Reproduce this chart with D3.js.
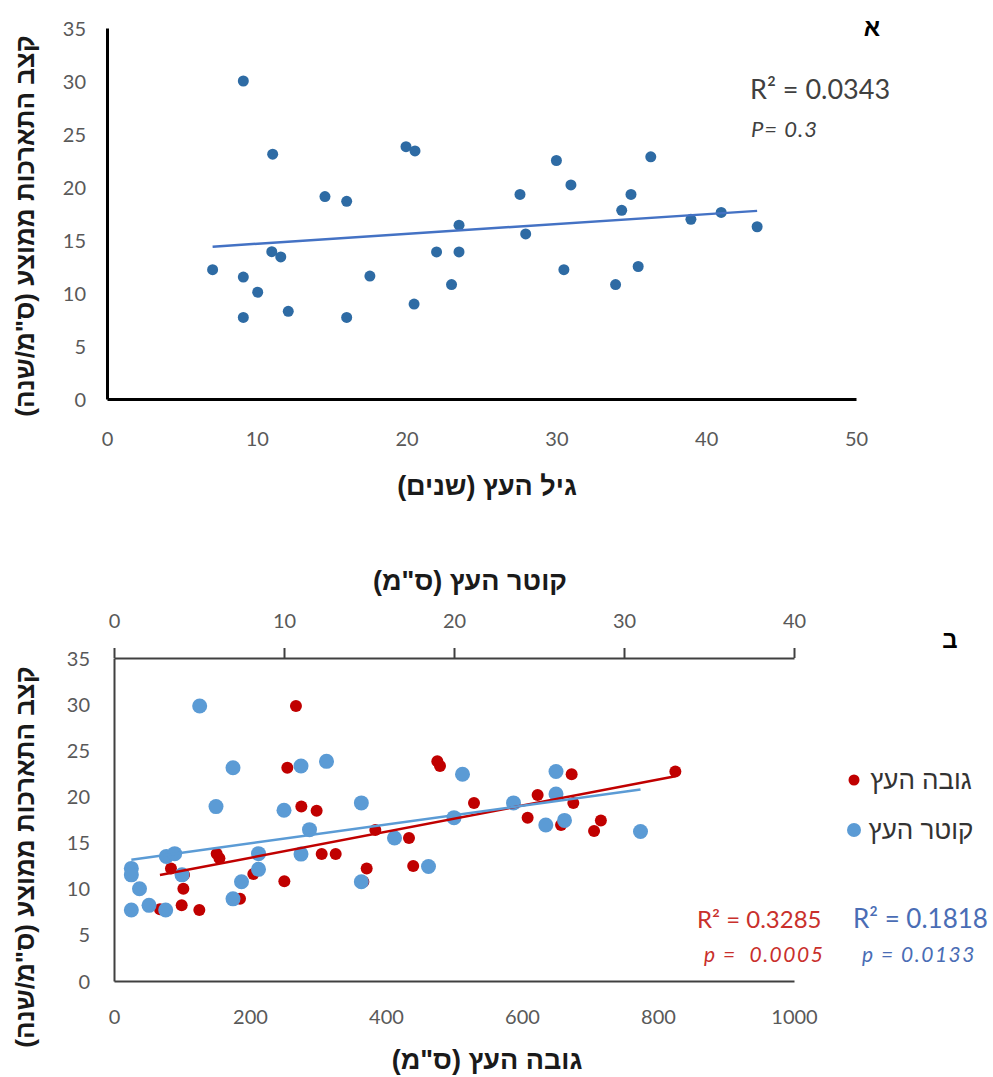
<!DOCTYPE html>
<html lang="he">
<head>
<meta charset="utf-8">
<script src="https://cdn.jsdelivr.net/npm/d3@7.9.0/dist/d3.min.js"></script>
<style>
  html, body { margin: 0; padding: 0; background: #fff; }
  svg { display: block; }
  .tick text { font-family: Lato, "Open Sans", sans-serif; font-size: 20px; fill: #595959; }
  .heb { font-family: "Liberation Sans", "DejaVu Sans", sans-serif; }
  .stat { font-family: Lato, "Open Sans", sans-serif; }
</style>
</head>
<body>
<svg id="chart" width="993" height="1077"></svg>
<script>
// ----- Panel א: growth vs. tree age -----
const ageYears = [9.1, 11.06, 14.55, 16.0, 19.96, 20.56, 27.57, 23.5, 27.95, 22.0, 23.5, 11.0, 11.6, 7.05, 9.1, 10.06, 17.55,
  23.0, 20.5, 12.1, 9.1, 16.0, 30.0, 30.97, 36.3, 34.98, 34.36, 38.98, 41.0, 43.4, 30.5, 35.46, 33.95];
const ageGrowth = [30.0, 23.1, 19.1, 18.65, 23.8, 23.4, 19.3, 16.4, 15.57, 13.87, 13.87, 13.9, 13.4, 12.2, 11.5, 10.07, 11.6,
  10.8, 8.96, 8.27, 7.7, 7.7, 22.5, 20.2, 22.85, 19.3, 17.8, 16.95, 17.6, 16.25, 12.2, 12.5, 10.8];
const ageTrend = { slope: 0.0928, intercept: 13.72 };

// ----- Panel ב: growth vs. height (red) and diameter (blue) -----
const heightCm = [267.6, 254.9, 475.5, 479.4, 275.5, 298, 529.4, 384.3, 433.8, 151, 155, 305.4, 326, 83.8, 371.6, 440, 204.9,
  102, 250.5, 185.3, 99.5, 67.6, 125.5, 366.7, 103, 825.5, 673, 623, 675.5, 608.3, 716, 657.4, 706];
const heightGrowth = [29.8, 23.1, 23.8, 23.3, 18.9, 18.45, 19.3, 16.36, 15.5, 13.8, 13.3, 13.76, 13.76, 12.2, 12.2, 12.46, 11.6,
  10.0, 10.8, 8.9, 8.2, 7.77, 7.7, 10.75, 11.5, 22.7, 22.4, 20.15, 19.3, 17.7, 17.4, 16.9, 16.25];
const diamCm = [5.04, 7.0, 11.0, 12.5, 20.5, 6.0, 10.0, 14.55, 11.5, 20.0, 16.5, 3.08, 3.57, 8.5, 11.0, 1.02, 1.02, 4.0, 8.5,
  18.5, 1.5, 7.5, 14.55, 7.0, 2.06, 1.02, 3.04, 26.0, 23.5, 26.0, 26.5, 25.4, 30.97];
const diamGrowth = [29.8, 23.1, 23.3, 23.8, 22.4, 18.9, 18.5, 19.3, 16.4, 17.7, 15.5, 13.5, 13.8, 13.8, 13.75, 12.2, 11.5, 11.5,
  12.1, 12.4, 10.0, 10.75, 10.75, 8.9, 8.2, 7.7, 7.7, 22.7, 19.3, 20.26, 17.4, 16.9, 16.2];
const heightTrend = { slope: 0.01414, intercept: 10.52 };
const diamTrend = { slope: 0.2538, intercept: 12.88 };

const yTicks = [0, 5, 10, 15, 20, 25, 30, 35];
const ageTicks = [0, 10, 20, 30, 40, 50];
const heightTicks = [0, 200, 400, 600, 800, 1000];
const diamTicks = [0, 10, 20, 30, 40];

const yTitle = 'קצב התארכות ממוצע (ס"מ/שנה)';
const fmt = d3.format("d");

const svg = d3.select("#chart");

function styleAxis(g, color, width) {
  g.select(".domain").attr("stroke", color).attr("stroke-width", width);
  g.selectAll(".tick line").attr("stroke", color).attr("stroke-width", width);
}

function trendLine(g, xs, trend, x, y, color) {
  const [lo, hi] = d3.extent(xs);
  const pts = [lo, hi].map(v => [v, trend.intercept + trend.slope * v]);
  g.append("path")
    .attr("d", d3.line().x(d => x(d[0])).y(d => y(d[1]))(pts))
    .attr("stroke", color).attr("stroke-width", 2.5).attr("fill", "none");
}

function hebTitle(g, text, size) {
  return g.append("text").attr("class", "heb").attr("direction", "rtl")
    .attr("text-anchor", "middle").attr("font-size", size)
    .attr("font-weight", "bold").attr("fill", "#1a1a1a").text(text);
}

// ===== Panel א =====
{
  const x = d3.scaleLinear([0, 50], [107, 856]);
  const y = d3.scaleLinear([0, 35], [399, 28]);
  const g = svg.append("g");

  g.append("g").attr("transform", "translate(0,399)")
    .call(d3.axisBottom(x).tickValues(ageTicks).tickFormat(fmt).tickSize(0).tickSizeOuter(0).tickPadding(33))
    .call(a => styleAxis(a, "#000", 3));
  g.append("g").attr("transform", "translate(107,0)")
    .call(d3.axisLeft(y).tickValues(yTicks).tickFormat(fmt).tickSize(0).tickSizeOuter(0).tickPadding(21))
    .call(a => styleAxis(a, "#000", 3))
    .call(a => a.selectAll(".tick text").attr("dy", "0.35em"));

  g.append("g").selectAll("circle")
    .data(d3.zip(ageYears, ageGrowth))
    .join("circle")
    .attr("cx", d => x(d[0])).attr("cy", d => y(d[1])).attr("r", 5.5)
    .attr("fill", "#2E6BA4");
  trendLine(g, ageYears, ageTrend, x, y, "#4472C4");

  g.append("text").attr("class", "stat").attr("x", 750).attr("y", 99)
    .attr("font-size", 27).attr("fill", "#404040")
    .text("R² = 0.0343");
  g.append("text").attr("class", "stat").attr("x", 751).attr("y", 137)
    .attr("font-size", 22).attr("font-style", "italic").attr("fill", "#404040")
    .attr("letter-spacing", 1)
    .text("P= 0.3");

  g.append("text").attr("class", "heb").attr("x", 872).attr("y", 36)
    .attr("text-anchor", "middle").attr("font-size", 24).attr("font-weight", "bold")
    .text("א");
  hebTitle(g, "גיל העץ (שנים)", 27).attr("x", 487).attr("y", 495);
  hebTitle(g, yTitle, 26).attr("transform", "translate(34,226) rotate(-90)");
}

// ===== Panel ב =====
{
  const xH = d3.scaleLinear([0, 1000], [114, 794]);
  const xD = d3.scaleLinear([0, 40], [114, 794]);
  const y = d3.scaleLinear([0, 35], [981, 658]);
  const g = svg.append("g");
  const red = "#C00000", blue = "#5B9BD5";

  g.append("g").attr("transform", "translate(0,981)")
    .call(d3.axisBottom(xH).tickValues(heightTicks).tickFormat(fmt).tickSize(0).tickSizeOuter(0).tickPadding(29))
    .call(a => styleAxis(a, "#404040", 2));
  g.append("g").attr("transform", "translate(0,658)")
    .call(d3.axisTop(xD).tickValues(diamTicks).tickFormat(fmt).tickSize(10).tickSizeOuter(0).tickPadding(20))
    .call(a => styleAxis(a, "#404040", 2));
  g.append("g").attr("transform", "translate(114,0)")
    .call(d3.axisLeft(y).tickValues(yTicks).tickFormat(fmt).tickSize(0).tickSizeOuter(0).tickPadding(24))
    .call(a => styleAxis(a, "#404040", 2))
    .call(a => a.selectAll(".tick text").attr("dy", "0.35em"));

  g.append("g").selectAll("circle")
    .data(d3.zip(heightCm, heightGrowth))
    .join("circle")
    .attr("cx", d => xH(d[0])).attr("cy", d => y(d[1])).attr("r", 6)
    .attr("fill", red);
  g.append("g").selectAll("circle")
    .data(d3.zip(diamCm, diamGrowth))
    .join("circle")
    .attr("cx", d => xD(d[0])).attr("cy", d => y(d[1])).attr("r", 7.5)
    .attr("fill", blue);
  trendLine(g, heightCm, heightTrend, xH, y, red);
  trendLine(g, diamCm, diamTrend, xD, y, blue);

  // legend
  const legend = [
    { label: "גובה העץ", color: red, r: 5.5, cy: 780 },
    { label: "קוטר העץ", color: blue, r: 7, cy: 830 }
  ];
  const li = g.append("g").selectAll("g").data(legend).join("g");
  li.append("circle").attr("cx", 854).attr("cy", d => d.cy).attr("r", d => d.r).attr("fill", d => d.color);
  li.append("text").attr("class", "heb").attr("direction", "rtl")
    .attr("x", 921).attr("y", d => d.cy + 9).attr("text-anchor", "middle")
    .attr("font-size", 26).attr("fill", "#333")
    .text(d => d.label);

  // stats
  g.append("text").attr("class", "stat").attr("x", 697).attr("y", 928)
    .attr("font-size", 24).attr("fill", "#C9302C").text("R² = 0.3285");
  g.append("text").attr("class", "stat").attr("x", 704).attr("y", 962)
    .attr("font-size", 21).attr("font-style", "italic").attr("fill", "#C9302C")
    .attr("letter-spacing", 1.5).attr("xml:space", "preserve")
    .text("p =  0.0005");
  g.append("text").attr("class", "stat").attr("x", 853).attr("y", 928)
    .attr("font-size", 26).attr("fill", "#4A6DB5").text("R² = 0.1818");
  g.append("text").attr("class", "stat").attr("x", 862).attr("y", 962)
    .attr("font-size", 21).attr("font-style", "italic").attr("fill", "#4A6DB5")
    .attr("letter-spacing", 1.5)
    .text("p = 0.0133");

  g.append("text").attr("class", "heb").attr("x", 950).attr("y", 648)
    .attr("text-anchor", "middle").attr("font-size", 24).attr("font-weight", "bold")
    .text("ב");
  hebTitle(g, 'קוטר העץ (ס"מ)', 27).attr("x", 470).attr("y", 590);
  hebTitle(g, 'גובה העץ (ס"מ)', 27).attr("x", 487).attr("y", 1069);
  hebTitle(g, yTitle, 26).attr("transform", "translate(34,857) rotate(-90)");
}
</script>
</body>
</html>
